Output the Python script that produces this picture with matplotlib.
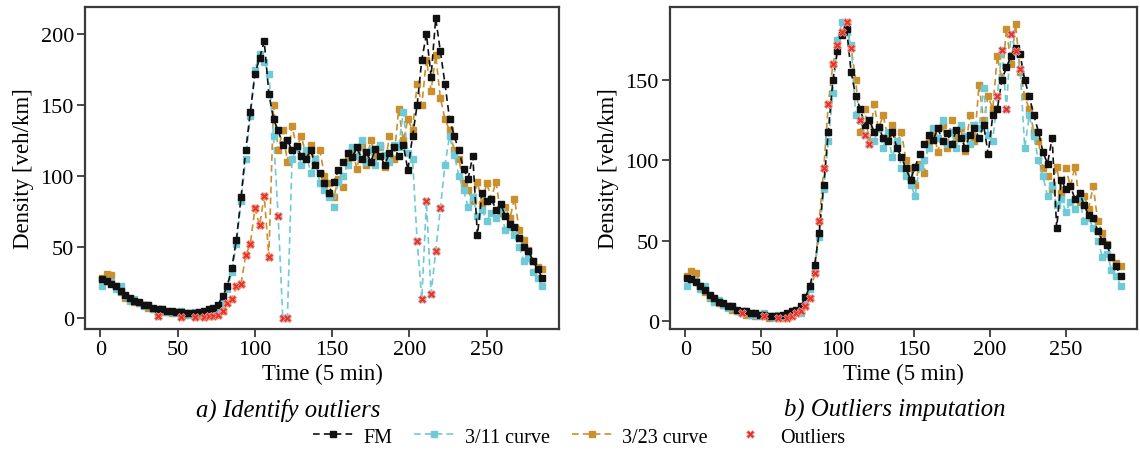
import numpy as np
import matplotlib
matplotlib.use("Agg")
import matplotlib.pyplot as plt
from matplotlib.lines import Line2D

plt.rcParams['font.family'] = ['Liberation Serif', 'DejaVu Serif']

# time index (5 min steps), every 3rd sample
t = np.arange(1, 288, 3)

# --- a) raw curves ---
fm_a = [27, 26, 24, 22, 19, 16, 14, 12, 11, 9, 9, 7, 6, 6, 5, 5, 4, 4, 3, 3,
        3, 4, 5, 6, 7, 9, 15, 22, 35, 55, 85, 118, 145, 172, 183, 195, 158, 140, 132, 122,
        125, 118, 121, 114, 112, 118, 108, 102, 95, 88, 96, 104, 110, 116, 113, 120, 112, 117, 110, 119,
        114, 108, 116, 120, 114, 122, 104, 128, 150, 182, 200, 170, 211, 188, 165, 140, 128, 118, 105, 98,
        114, 58, 88, 82, 84, 76, 80, 72, 66, 64, 56, 50, 47, 40, 34, 28]

c311_a = [22, 26, 25, 20, 22, 15, 12, 13, 10, 8, 9, 6, 5, 6, 4, 4, 3, 5, 3, 2,
          4, 3, 3, 5, 6, 5, 10, 20, 32, 52, 82, 112, 142, 175, 186, 180, 172, 128, 72, 0,
          0, 112, 120, 108, 118, 102, 112, 95, 90, 85, 78, 96, 100, 108, 120, 114, 125, 110, 118, 108,
          122, 115, 110, 122, 120, 145, 116, 112, 54, 13, 82, 17, 47, 77, 108, 128, 115, 100, 90, 78,
          85, 72, 76, 68, 74, 70, 76, 62, 64, 58, 50, 40, 42, 32, 28, 22]

c323_a = [28, 31, 30, 22, 18, 14, 13, 11, 10, 9, 7, 6, 1, 4, 4, 3, 4, 0.5, 2, 3,
          0.5, 2, 0.5, 1, 1, 2, 5, 10, 13, 22, 24, 44, 52, 77, 65, 86, 43, 150, 118, 132,
          110, 135, 120, 128, 115, 122, 110, 118, 100, 95, 85, 98, 92, 112, 118, 105, 122, 108, 125, 114,
          120, 106, 128, 112, 147, 125, 140, 132, 165, 150, 182, 160, 185, 155, 140, 132, 118, 112, 95, 90,
          82, 96, 80, 95, 84, 96, 74, 78, 70, 84, 62, 55, 48, 40, 36, 34]

# outlier positions (indices into t)
out_311 = [38, 39, 40, 68, 69, 70, 71, 72, 73]
out_323 = [12, 17, 20, 22, 23, 24] + list(range(25, 37))

# --- b) imputed values at the outlier positions ---
imp_311 = [125, 116, 110, 140, 169, 132, 179, 168, 157]
imp_323 = [5, 3, 2, 2, 3, 5, 6, 9, 14, 30, 62, 95, 135, 160, 172, 180, 186, 170]
fm_b_idx = [32, 33, 34, 35, 36, 68, 69, 70, 71, 72, 73, 74]
fm_b_val = [150, 168, 178, 182, 155, 132, 150, 158, 165, 170, 166, 150]

fm_a, c311_a, c323_a = np.array(fm_a, float), np.array(c311_a, float), np.array(c323_a, float)
fm_b = fm_a.copy(); fm_b[fm_b_idx] = fm_b_val
c311_b = c311_a.copy(); c311_b[out_311] = imp_311
c323_b = c323_a.copy(); c323_b[out_323] = imp_323

C_FM, C_311, C_323, C_OUT = '#111111', '#6fcad5', '#c9902d', '#e8322b'
line_kw = dict(ls='--', lw=1.2, marker='s', ms=4.2, dashes=(4, 2.5))
out_kw = dict(ls='none', marker='X', ms=6, mfc=C_OUT, mec='#f4a09c', mew=0.5, zorder=5)

fig = plt.figure(figsize=(11.4, 4.52), dpi=100)
ax1 = fig.add_axes([0.0746, 0.270, 0.416, 0.712])
ax2 = fig.add_axes([0.5877, 0.270, 0.410, 0.712])


def draw(ax, fm, c311, c323):
    ax.plot(t, c323, color=C_323, zorder=2, **line_kw)
    ax.plot(t, c311, color=C_311, zorder=3, **line_kw)
    ax.plot(t, fm, color=C_FM, zorder=4, **line_kw)
    ax.plot(t[out_311], c311[out_311], **out_kw)
    ax.plot(t[out_323], c323[out_323], **out_kw)
    ax.set_xlim(-10, 297)
    ax.set_xticks([0, 50, 100, 150, 200, 250])
    ax.set_xlabel('Time (5 min)', fontsize=16.5, labelpad=3)
    ax.set_ylabel('Density [veh/km]', fontsize=16.5, labelpad=5)
    for s in ax.spines.values():
        s.set_color('#3a3a3a')
        s.set_linewidth(1.6)
    ax.tick_params(direction='out', length=6, width=1.3, color='#3a3a3a',
                   labelsize=16, pad=2)


draw(ax1, fm_a, c311_a, c323_a)
ax1.set_ylim(-8, 219)
ax1.set_yticks([0, 50, 100, 150, 200])

draw(ax2, fm_b, c311_b, c323_b)
ax2.set_ylim(-5, 195.5)
ax2.set_yticks([0, 50, 100, 150])

fig.text(0.253, 0.093, 'a) Identify outliers', ha='center', va='center',
         fontsize=17.8, style='italic')
fig.text(0.785, 0.093, 'b) Outliers imputation', ha='center', va='center',
         fontsize=17.8, style='italic')

handles = [Line2D([], [], color=C_FM, **line_kw),
           Line2D([], [], color=C_311, **line_kw),
           Line2D([], [], color=C_323, **line_kw),
           Line2D([], [], **out_kw)]
fig.legend(handles, ['FM', '3/11 curve', '3/23 curve', 'Outliers'],
           loc='center', bbox_to_anchor=(0.508, 0.031), ncol=4, frameon=False,
           fontsize=14.5, handlelength=2.0, handletextpad=0.5, columnspacing=1.1,
           borderaxespad=0)

fig.savefig('out.png', dpi=100)
